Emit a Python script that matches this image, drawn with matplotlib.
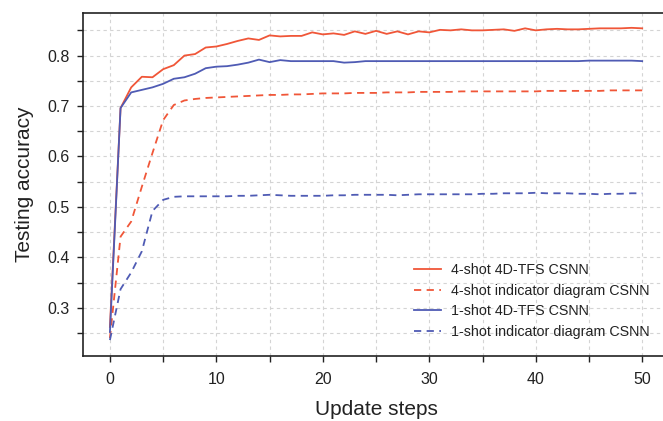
import matplotlib
matplotlib.use("Agg")
import matplotlib.pyplot as plt

plt.rcParams['font.family'] = ['Liberation Sans', 'DejaVu Sans']

steps = list(range(51))

red_solid = [0.262, 0.696, 0.737, 0.758, 0.757, 0.773, 0.781, 0.800, 0.803, 0.816,
             0.818, 0.823, 0.829, 0.834, 0.831, 0.840, 0.838, 0.839, 0.839, 0.846,
             0.842, 0.844, 0.841, 0.848, 0.843, 0.849, 0.843, 0.848, 0.842, 0.848,
             0.846, 0.851, 0.850, 0.852, 0.850, 0.850, 0.851, 0.852, 0.849, 0.854,
             0.850, 0.852, 0.853, 0.852, 0.852, 0.853, 0.854, 0.854, 0.854, 0.855,
             0.854]

red_dashed = [0.240, 0.441, 0.471, 0.540, 0.607, 0.672, 0.702, 0.711, 0.714, 0.716,
              0.717, 0.718, 0.719, 0.720, 0.721, 0.722, 0.722, 0.723, 0.723, 0.724,
              0.725, 0.725, 0.725, 0.726, 0.726, 0.726, 0.727, 0.727, 0.727, 0.728,
              0.728, 0.728, 0.728, 0.729, 0.729, 0.729, 0.729, 0.729, 0.729, 0.729,
              0.729, 0.730, 0.730, 0.730, 0.730, 0.730, 0.730, 0.731, 0.731, 0.731,
              0.731]

blue_solid = [0.252, 0.696, 0.727, 0.732, 0.737, 0.744, 0.754, 0.757, 0.764, 0.775,
              0.778, 0.779, 0.782, 0.786, 0.792, 0.787, 0.791, 0.789, 0.789, 0.789,
              0.789, 0.789, 0.786, 0.787, 0.789, 0.789, 0.789, 0.789, 0.789, 0.789,
              0.789, 0.789, 0.789, 0.789, 0.789, 0.789, 0.789, 0.789, 0.789, 0.789,
              0.789, 0.789, 0.789, 0.789, 0.789, 0.790, 0.790, 0.790, 0.790, 0.790,
              0.789]

blue_dashed = [0.236, 0.337, 0.370, 0.412, 0.492, 0.514, 0.520, 0.521, 0.521, 0.521,
               0.521, 0.521, 0.522, 0.522, 0.523, 0.524, 0.523, 0.522, 0.522, 0.522,
               0.522, 0.523, 0.523, 0.524, 0.524, 0.524, 0.524, 0.523, 0.524, 0.525,
               0.525, 0.525, 0.525, 0.525, 0.525, 0.526, 0.526, 0.527, 0.527, 0.527,
               0.528, 0.527, 0.527, 0.527, 0.526, 0.526, 0.525, 0.526, 0.526, 0.527,
               0.527]

labels = ["4-shot 4D-TFS CSNN", "4-shot indicator diagram CSNN",
          "1-shot 4D-TFS CSNN", "1-shot indicator diagram CSNN"]

x_ticks = [0, 5, 10, 15, 20, 25, 30, 35, 40, 45, 50]
x_ticklabels = ["0", "", "10", "", "20", "", "30", "", "40", "", "50"]
y_ticks = [0.25, 0.3, 0.35, 0.4, 0.45, 0.5, 0.55, 0.6, 0.65, 0.7, 0.75, 0.8, 0.85]
y_ticklabels = ["", "0.3", "", "0.4", "", "0.5", "", "0.6", "", "0.7", "", "0.8", ""]

RED = "#f05638"
BLUE = "#4f5bb4"

W, H = 663, 421
fig = plt.figure(figsize=(W / 100, H / 100), dpi=100)
left, right, top, bottom = 83.3, 668.8, 12.7, 355.7
ax = fig.add_axes([left / W, (H - bottom) / H, (right - left) / W, (bottom - top) / H])

ax.plot(steps, red_solid, color=RED, lw=1.3, label=labels[0])
ax.plot(steps, red_dashed, color=RED, lw=1.3, ls=(0, (4, 3)), label=labels[1])
ax.plot(steps, blue_solid, color=BLUE, lw=1.3, label=labels[2])
ax.plot(steps, blue_dashed, color=BLUE, lw=1.3, ls=(0, (4, 3)), label=labels[3])

ax.set_xlim(-2.5, 52.5)
ax.set_ylim(0.205, 0.885)

ax.set_xticks(x_ticks)
ax.set_xticklabels(x_ticklabels)
ax.set_yticks(y_ticks)
ax.set_yticklabels(y_ticklabels)

ax.grid(True, color="#d4d4d4", ls=(0, (3, 3)), lw=0.8)
ax.set_axisbelow(True)

ax.tick_params(direction='out', length=4, width=1.0, color="#222222",
               labelsize=11.5, labelcolor="#222222")
ax.tick_params(axis='x', pad=8)
ax.tick_params(axis='y', pad=6)

for s in ax.spines.values():
    s.set_color("#222222")
    s.set_linewidth(1.2)

ax.set_xlabel("Update steps", fontsize=15, color="#222222")
ax.set_ylabel("Testing accuracy", fontsize=15, color="#222222")
ax.xaxis.set_label_coords(0.5, -0.128)
ax.yaxis.set_label_coords(-0.085, 0.5)

leg = ax.legend(loc='lower right', bbox_to_anchor=(0.99, 0.012), frameon=False,
                fontsize=10.3, handlelength=1.9, handletextpad=0.7, labelspacing=0.45,
                labelcolor="#222222")

fig.savefig("out.png", dpi=100)
